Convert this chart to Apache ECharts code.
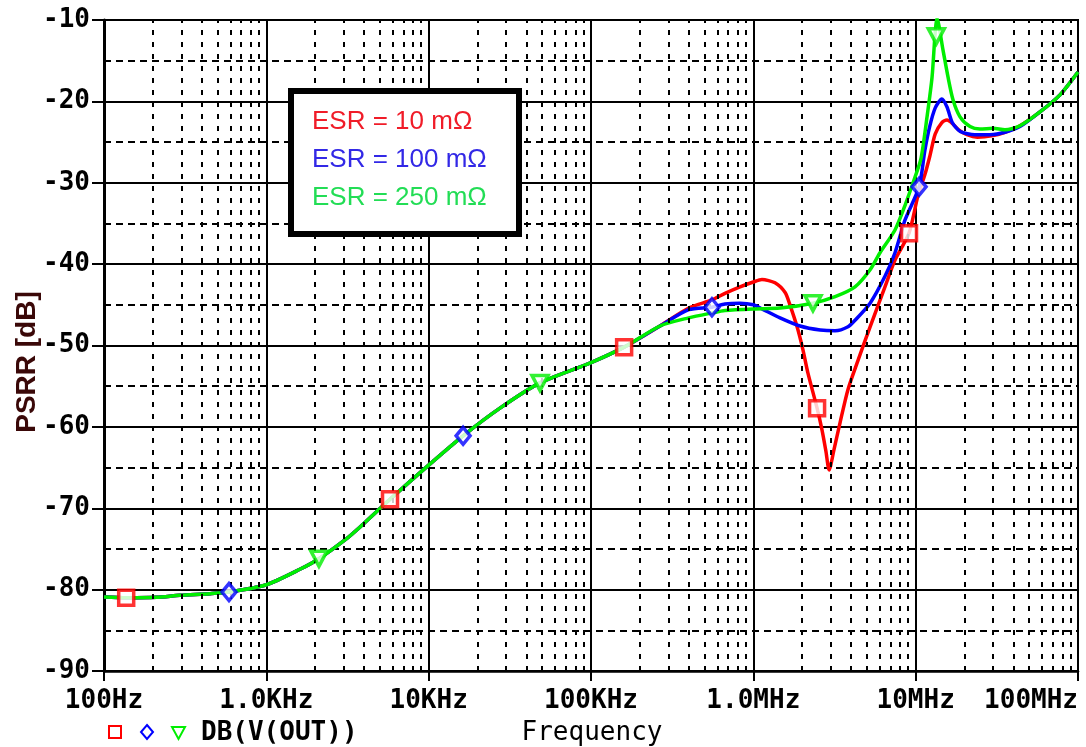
<!DOCTYPE html>
<html>
<head>
<meta charset="utf-8">
<title>PSRR vs Frequency</title>
<script src="https://cdn.jsdelivr.net/npm/echarts@6/dist/echarts.min.js"></script>
<style>
  html, body { margin: 0; padding: 0; background: #fff; }
  #chart { width: 1086px; height: 747px; }
</style>
</head>
<body>
<div id="chart"></div>
<script>
// axis ticks
const freqTicks = [100, 1e3, 1e4, 1e5, 1e6, 1e7, 1e8];
const freqTickLabels = ['100Hz', '1.0KHz', '10KHz', '100KHz', '1.0MHz', '10MHz', '100MHz'];
const minorSteps = [2, 3, 4, 5, 6, 7, 8, 9];

// common low-frequency part of all three curves (Hz, dB)
const sharedFreq = [100, 137, 210, 294, 450, 589, 1000, 1610, 2110, 3050, 3780, 5780, 10000, 16300, 27500, 48500, 100000, 160000, 266000];
const sharedDb = [-80.9, -81.0, -80.95, -80.7, -80.5, -80.3, -79.4, -77.5, -76.2, -73.9, -72.3, -68.9, -64.7, -61.1, -57.7, -54.6, -52.1, -50.2, -47.6];

// ESR = 10 mOhm
const redFreq = [400000, 556000, 669000, 828000, 1000000, 1130000, 1360000, 1570000, 1680000, 1860000, 2020000, 2170000, 2470000, 2650000, 2800000, 2930000, 3140000, 3420000, 3830000, 4420000, 5240000, 6470000, 7460000, 9100000, 10300000, 11400000, 12200000, 13200000, 14500000, 15600000, 16800000, 18400000, 20700000, 24000000, 30000000, 35500000, 43900000, 58300000, 77500000, 100000000];
const redDb = [-45.4, -44.4, -43.6, -42.8, -42.2, -41.9, -42.3, -43.5, -45.0, -47.7, -50.5, -53.4, -57.7, -60.4, -63.0, -65.3, -62.8, -59.5, -55.4, -51.8, -47.7, -42.8, -39.5, -36.2, -31.7, -29.0, -26.8, -24.0, -22.6, -22.3, -22.7, -23.5, -24.1, -24.4, -24.2, -23.8, -23.0, -21.3, -19.2, -16.4];

// ESR = 100 mOhm
const blueFreq = [400000, 556000, 669000, 828000, 1000000, 1130000, 1460000, 1940000, 2580000, 3190000, 3830000, 4230000, 5240000, 6470000, 7460000, 8590000, 10500000, 11400000, 12200000, 13200000, 14500000, 15600000, 16800000, 18800000, 23200000, 28700000, 35500000, 43900000, 58300000, 77500000, 100000000];
const blueDb = [-45.6, -45.3, -44.9, -44.8, -45.0, -45.5, -46.6, -47.6, -48.1, -48.2, -47.7, -46.9, -44.8, -41.5, -38.6, -34.6, -30.5, -26.0, -23.1, -20.8, -19.7, -20.7, -22.6, -23.7, -24.1, -24.1, -23.8, -23.1, -21.3, -19.2, -16.4];

// ESR = 250 mOhm
const greenFreq = [400000, 556000, 669000, 1000000, 1460000, 2330000, 3190000, 4230000, 5240000, 6030000, 7460000, 8590000, 9910000, 10790000, 11750000, 12620000, 13160000, 13530000, 14740000, 15820000, 16980000, 18760000, 21630000, 24910000, 29980000, 35500000, 43900000, 58300000, 77500000, 100000000];
const greenDb = [-46.6, -46.0, -45.7, -45.5, -45.4, -44.8, -44.0, -42.8, -40.7, -38.6, -35.8, -32.8, -29.3, -27.0, -21.9, -17.0, -11.8, -9.8, -13.7, -17.0, -19.8, -21.9, -23.1, -23.4, -23.3, -23.5, -23.0, -21.3, -19.2, -16.4];

// marker positions
const redMarkFreq = [137, 5780, 160000, 2470000, 9100000];
const redMarkDb = [-81.0, -68.9, -50.2, -57.7, -36.2];
const blueMarkFreq = [589, 16300, 556000, 10500000];
const blueMarkDb = [-80.3, -61.1, -45.3, -30.5];
const greenMarkFreq = [2110, 48500, 2330000, 13400000];
const greenMarkDb = [-76.2, -54.6, -44.8, -12.0];

const legendLabels = ['ESR = 10 mΩ', 'ESR = 100 mΩ', 'ESR = 250 mΩ'];

const RED = '#ff0000';
const BLUE = '#0000ff';
const GREEN = '#00ee00';
const MONO = '"DejaVu Sans Mono", monospace';

function pairs(xs, ys) {
  return xs.map((x, i) => [x, ys[i]]);
}

function curve(name, freq, db, color) {
  return {
    name,
    type: 'line',
    data: pairs(sharedFreq.concat(freq), sharedDb.concat(db)),
    showSymbol: false,
    smooth: 0.25,
    lineStyle: { color, width: 3.5 },
    z: 3,
    silent: true
  };
}

function markers(name, freq, db, color, symbol, size, rotate) {
  return {
    name,
    type: 'scatter',
    data: pairs(freq, db),
    symbol,
    symbolSize: size,
    symbolRotate: rotate || 0,
    itemStyle: { color: '#ffffff', borderColor: color, borderWidth: 3.5 },
    z: 5,
    silent: true
  };
}

const minorLines = [];
freqTicks.slice(0, -1).forEach((decade) => {
  minorSteps.forEach((k) => minorLines.push({ xAxis: decade * k }));
});

const chart = echarts.init(document.getElementById('chart'), null, { renderer: 'canvas' });

chart.setOption({
  backgroundColor: '#ffffff',
  animation: false,
  grid: {
    left: 104,
    right: 8,
    top: 20,
    bottom: 76,
    show: true,
    borderColor: '#000',
    borderWidth: 2,
    backgroundColor: 'transparent'
  },
  xAxis: {
    type: 'log',
    logBase: 10,
    min: 100,
    max: 1e8,
    axisLine: { lineStyle: { color: '#000', width: 2.5 } },
    axisTick: { show: true, length: 10, lineStyle: { color: '#000', width: 2 } },
    axisLabel: {
      color: '#000',
      fontFamily: MONO,
      fontWeight: 'bold',
      fontSize: 26,
      margin: 17,
      alignMaxLabel: 'right',
      formatter: (v) => freqTickLabels[Math.round(Math.log10(v)) - 2]
    },
    splitLine: { show: true, lineStyle: { color: '#000', width: 2 } }
  },
  yAxis: {
    type: 'value',
    min: -90,
    max: -10,
    interval: 10,
    axisLine: { show: true, lineStyle: { color: '#000', width: 3 } },
    axisTick: { show: true, length: 12, lineStyle: { color: '#000', width: 2 } },
    axisLabel: {
      color: '#000',
      fontFamily: MONO,
      fontWeight: 'bold',
      fontSize: 26,
      margin: 14
    },
    splitLine: { show: true, lineStyle: { color: '#000', width: 2 } },
    minorTick: { show: false, splitNumber: 2 },
    minorSplitLine: { show: true, lineStyle: { color: '#000', width: 2, type: [7, 5] } }
  },
  series: [
    {
      name: 'minor grid',
      type: 'line',
      data: [],
      z: 1,
      silent: true,
      markLine: {
        silent: true,
        symbol: ['none', 'none'],
        label: { show: false },
        animation: false,
        lineStyle: { color: '#000', width: 2, type: [5, 7] },
        data: minorLines
      }
    },
    curve(legendLabels[0], redFreq, redDb, RED),
    curve(legendLabels[1], blueFreq, blueDb, BLUE),
    curve(legendLabels[2], greenFreq, greenDb, GREEN),
    markers('m1', redMarkFreq, redMarkDb, RED, 'rect', 15),
    markers('m2', blueMarkFreq, blueMarkDb, BLUE, 'diamond', [14, 17]),
    markers('m3', greenMarkFreq, greenMarkDb, GREEN, 'triangle', [16, 15], 180)
  ],
  graphic: [
    {
      type: 'rect',
      shape: { x: 291, y: 91, width: 228, height: 143 },
      style: { fill: '#fff', stroke: '#000', lineWidth: 6 },
      z: 50
    },
    {
      type: 'text', x: 312, y: 122, z: 51,
      style: { text: legendLabels[0], fill: '#f01c28', font: '26px "Liberation Sans", Arial, sans-serif', verticalAlign: 'middle' }
    },
    {
      type: 'text', x: 312, y: 160, z: 51,
      style: { text: legendLabels[1], fill: '#3228e6', font: '26px "Liberation Sans", Arial, sans-serif', verticalAlign: 'middle' }
    },
    {
      type: 'text', x: 312, y: 198, z: 51,
      style: { text: legendLabels[2], fill: '#22dd55', font: '26px "Liberation Sans", Arial, sans-serif', verticalAlign: 'middle' }
    },
    {
      type: 'text', x: 27, y: 362, rotation: Math.PI / 2, z: 51,
      style: { text: 'PSRR [dB]', fill: '#3a0808', font: 'bold 28px "Liberation Sans", Arial, sans-serif', align: 'center', verticalAlign: 'middle' }
    },
    {
      type: 'text', x: 592, y: 733, z: 51,
      style: { text: 'Frequency', fill: '#000', font: '26px ' + MONO, align: 'center', verticalAlign: 'middle' }
    },
    {
      type: 'rect', z: 51,
      shape: { x: 109, y: 726, width: 12, height: 12 },
      style: { fill: '#fff', stroke: RED, lineWidth: 2 }
    },
    {
      type: 'polygon', z: 51,
      shape: { points: [[147, 725], [153, 732], [147, 739], [141, 732]] },
      style: { fill: '#fff', stroke: BLUE, lineWidth: 2 }
    },
    {
      type: 'polygon', z: 51,
      shape: { points: [[172, 727], [185, 727], [178.5, 739]] },
      style: { fill: '#fff', stroke: GREEN, lineWidth: 2 }
    },
    {
      type: 'text', x: 201, y: 733, z: 51,
      style: { text: 'DB(V(OUT))', fill: '#000', font: 'bold 26px ' + MONO, verticalAlign: 'middle' }
    }
  ]
});
</script>
</body>
</html>
